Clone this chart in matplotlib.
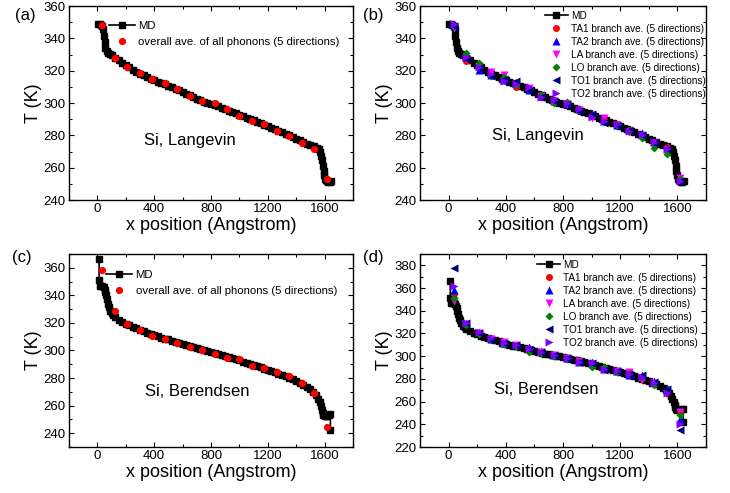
import numpy as np
import matplotlib
matplotlib.use("Agg")
import matplotlib.pyplot as plt
from matplotlib.ticker import MultipleLocator

plt.rcParams['font.family'] = ['Liberation Sans', 'DejaVu Sans']

# ---------------------------------------------------------------------
# MD temperature profiles
md_lang_x = [5, 15, 25, 35, 42, 47, 52, 57, 65, 75, 88, 100, 125, 150, 175, 200,
             225, 250, 275, 300, 325, 350, 375, 400, 425, 450, 475, 500, 525, 550,
             575, 600, 625, 650, 675, 700, 725, 750, 775, 800, 825, 850, 875, 900,
             925, 950, 975, 1000, 1025, 1050, 1075, 1100, 1125, 1150, 1175, 1200,
             1225, 1250, 1275, 1300, 1325, 1350, 1375, 1400, 1425, 1450, 1475, 1500,
             1525, 1545, 1560, 1570, 1578, 1584, 1589, 1593, 1597, 1601, 1608, 1616,
             1626, 1635, 1645]
md_lang_T = [349.0, 349.0, 348.3, 347.5, 345.5, 341.5, 337.5, 334.0, 332.0, 331.0,
             330.2, 329.4, 327.8, 326.3, 324.9, 323.5, 322.0, 320.6, 319.3, 318.2,
             317.2, 316.1, 315.0, 314.1, 313.3, 312.4, 311.6, 310.8, 309.9, 308.9,
             307.9, 306.8, 305.8, 304.8, 303.7, 302.7, 301.8, 300.9, 300.1, 299.4,
             298.7, 297.9, 297.1, 296.2, 295.3, 294.4, 293.6, 292.8, 291.9, 291.0,
             290.1, 289.2, 288.3, 287.5, 286.7, 285.8, 284.8, 283.8, 282.8, 281.8,
             280.9, 280.0, 279.0, 278.0, 276.9, 275.9, 274.9, 274.0, 273.2, 272.4,
             271.3, 269.8, 267.2, 264.5, 261.3, 258.0, 255.2, 253.3, 252.2, 251.6,
             251.4, 251.4, 251.5]

md_ber_x = [12, 12, 16, 25, 35, 45, 52, 57, 62, 67, 73, 80, 90, 100, 112, 125, 150,
            175, 200, 225, 250, 275, 300, 325, 350, 375, 400, 425, 450, 475, 500,
            525, 550, 575, 600, 625, 650, 675, 700, 725, 750, 775, 800, 825, 850,
            875, 900, 925, 950, 975, 1000, 1025, 1050, 1075, 1100, 1125, 1150, 1175,
            1200, 1225, 1250, 1275, 1300, 1325, 1350, 1375, 1400, 1425, 1450, 1475,
            1500, 1520, 1540, 1555, 1565, 1573, 1580, 1586, 1592, 1600, 1610, 1620,
            1630, 1640, 1641]
md_ber_T = [366.5, 351.3, 347.0, 346.8, 346.5, 345.8, 344.0, 342.5, 340.0, 337.0,
            334.0, 331.5, 328.8, 327.0, 325.5, 324.2, 322.2, 320.5, 319.3, 318.2,
            317.0, 316.0, 315.0, 314.0, 313.0, 312.0, 311.0, 310.2, 309.4, 308.7,
            308.0, 307.2, 306.3, 305.4, 304.6, 303.8, 303.0, 302.3, 301.6, 301.0,
            300.4, 299.8, 299.0, 298.3, 297.6, 296.9, 296.2, 295.4, 294.6, 293.7,
            292.8, 291.9, 291.0, 290.1, 289.3, 288.5, 287.7, 286.9, 286.0, 285.1,
            284.2, 283.3, 282.3, 281.2, 280.0, 279.0, 278.0, 276.7, 275.3, 273.8,
            272.0, 270.0, 267.8, 265.0, 262.5, 259.8, 257.0, 254.8, 253.4, 252.8,
            252.6, 252.8, 253.2, 253.6, 242.0]

# phonon averages
ph_x = [35, 123, 211, 298, 386, 474, 562, 649, 737, 825, 913, 1000, 1088, 1176,
        1264, 1351, 1439, 1527, 1615]

all_lang = [348.0, 328.0, 322.5, 318.4, 314.6, 312.2, 308.5, 304.3, 301.2, 300.0,
            296.3, 292.2, 289.1, 286.8, 282.9, 279.6, 275.5, 271.3, 252.8]
all_ber = [358.6, 328.4, 319.3, 314.7, 310.6, 308.0, 305.8, 302.9, 300.7, 297.6,
           294.7, 293.5, 288.9, 287.2, 284.3, 281.4, 276.4, 269.2, 244.8]

ta1_lang = [347.5, 326.2, 322.0, 318.0, 314.5, 310.1, 308.5, 304.0, 301.0, 300.0,
            295.7, 292.0, 289.5, 286.8, 283.0, 280.0, 275.5, 273.0, 252.5]
ta2_lang = [347.5, 328.7, 320.4, 317.5, 314.0, 312.5, 308.0, 304.5, 301.0, 299.5,
            296.5, 294.0, 289.0, 286.5, 283.5, 281.2, 276.0, 272.0, 253.0]
la_lang = [346.2, 327.5, 323.0, 319.4, 317.3, 311.5, 309.0, 304.5, 301.0, 299.5,
           295.7, 290.5, 290.5, 286.5, 282.0, 279.5, 275.0, 271.0, 253.8]
lo_lang = [347.5, 330.7, 324.5, 317.0, 315.9, 311.0, 308.5, 305.0, 299.8, 300.5,
           295.7, 292.5, 288.5, 286.5, 282.5, 278.6, 272.4, 268.2, 253.0]
to1_lang = [347.5, 327.0, 321.4, 317.0, 314.8, 313.6, 308.0, 304.0, 301.0, 299.5,
            295.0, 293.0, 287.4, 286.5, 283.0, 280.0, 275.5, 271.5, 251.5]
to2_lang = [348.9, 328.2, 322.5, 318.0, 313.6, 312.0, 309.7, 303.9, 301.9, 299.8,
            296.0, 291.5, 289.0, 286.8, 282.7, 280.2, 276.1, 271.3, 252.0]

ta1_ber = [354.7, 328.0, 320.0, 315.2, 312.0, 309.5, 306.5, 304.0, 301.0, 298.0,
           294.6, 292.5, 289.0, 287.0, 286.0, 281.0, 276.5, 269.0, 250.5]
ta2_ber = [358.5, 329.0, 321.0, 315.2, 311.5, 310.0, 308.4, 304.5, 301.0, 298.0,
           294.6, 295.1, 289.0, 286.9, 283.5, 283.0, 278.0, 271.6, 245.0]
la_ber = [348.2, 328.5, 320.0, 315.2, 312.8, 309.5, 305.5, 304.0, 301.0, 298.0,
          295.5, 293.0, 288.0, 286.9, 285.7, 278.9, 276.0, 268.0, 251.0]
lo_ber = [351.1, 327.6, 319.5, 314.0, 311.0, 309.0, 304.0, 303.0, 300.0, 298.0,
          294.6, 290.7, 290.7, 286.0, 284.0, 282.0, 274.5, 270.0, 248.0]
to1_ber = [377.6, 329.0, 320.5, 314.5, 312.0, 309.5, 306.0, 304.0, 301.0, 298.0,
           294.6, 294.0, 288.0, 286.9, 284.0, 283.4, 277.0, 271.0, 234.7]
to2_ber = [361.4, 329.6, 321.0, 315.8, 312.0, 309.9, 306.0, 304.0, 301.0, 298.1,
           295.0, 293.7, 288.7, 286.9, 284.5, 281.5, 276.0, 267.2, 240.6]

branch_names = ["TA1", "TA2", "LA", "LO", "TO1", "TO2"]
branch_colors = ["#FF0000", "#0000FF", "#FF00FF", "#008000", "#000080", "#8000FF"]
branch_markers = ["o", "^", "v", "D", "<", ">"]
branch_sizes = [5.0, 5.4, 5.4, 4.0, 5.4, 5.4]

#----------------------------------------------------------------------
fig = plt.figure(figsize=(7.3, 4.93), dpi=100)
ax_a = fig.add_axes([0.0945, 0.5943, 0.3891, 0.3935])
ax_b = fig.add_axes([0.5753, 0.5943, 0.3918, 0.3935])
ax_c = fig.add_axes([0.0945, 0.0933, 0.3891, 0.3915])
ax_d = fig.add_axes([0.5753, 0.0933, 0.3918, 0.3915])


def style(ax, ylim, text, tx, ty):
    ax.set_xlim(-200, 1800)
    ax.set_ylim(*ylim)
    ax.xaxis.set_major_locator(MultipleLocator(400))
    ax.xaxis.set_minor_locator(MultipleLocator(200))
    ax.yaxis.set_major_locator(MultipleLocator(20))
    ax.yaxis.set_minor_locator(MultipleLocator(10))
    ax.tick_params(which='both', direction='in', top=True, right=True,
                   labelsize=9.5, width=0.8, pad=2.5)
    ax.tick_params(which='major', length=3.5)
    ax.tick_params(which='minor', length=2)
    for s in ax.spines.values():
        s.set_linewidth(1.0)
    ax.set_xlabel('x position (Angstrom)', fontsize=13, labelpad=1)
    ax.set_ylabel('T (K)', fontsize=13, labelpad=1)
    ax.text(tx, ty, text, transform=ax.transAxes, fontsize=12, ha='center', va='center')


def md(ax, x, T):
    ax.plot(x, T, '-s', color='black', lw=1.2, ms=4.6, label='MD', zorder=2)


# (a)
md(ax_a, md_lang_x, md_lang_T)
ax_a.plot(ph_x, all_lang, 'o', color='#FF0000', ms=5.2, mec='none',
          label='overall ave. of all phonons (5 directions)', zorder=3)
style(ax_a, (240, 360), 'Si, Langevin', 0.426, 0.309)
ax_a.legend(loc='upper left', bbox_to_anchor=(0.14, 0.924), frameon=False, fontsize=8.2,
            handlelength=2.3, handletextpad=0.3, borderpad=0, borderaxespad=0,
            labelspacing=0.55)

# (c)
md(ax_c, md_ber_x, md_ber_T)
ax_c.plot(ph_x, all_ber, 'o', color='#FF0000', ms=5.2, mec='none',
          label='overall ave. of all phonons (5 directions)', zorder=3)
style(ax_c, (230, 370), 'Si, Berendsen', 0.45, 0.287)
ax_c.legend(loc='upper left', bbox_to_anchor=(0.13, 0.919), frameon=False, fontsize=8.2,
            handlelength=2.3, handletextpad=0.3, borderpad=0, borderaxespad=0,
            labelspacing=0.55)

# (b) and (d)
for ax, data, ylim, text, tx, ty, anchor in [
        (ax_b, [ta1_lang, ta2_lang, la_lang, lo_lang, to1_lang, to2_lang],
         (240, 360), 'Si, Langevin', 0.413, 0.335, (0.437, 0.975)),
        (ax_d, [ta1_ber, ta2_ber, la_ber, lo_ber, to1_ber, to2_ber],
         (220, 390), 'Si, Berendsen', 0.443, 0.30, (0.41, 0.97))]:
    md(ax, md_lang_x if ax is ax_b else md_ber_x, md_lang_T if ax is ax_b else md_ber_T)
    for i in range(len(branch_names)):
        ax.plot(ph_x, data[i], branch_markers[i], color=branch_colors[i],
                ms=branch_sizes[i], mec='none', zorder=3,
                label=branch_names[i] + ' branch ave. (5 directions)')
    style(ax, ylim, text, tx, ty)
    ax.legend(loc='upper left', bbox_to_anchor=anchor, frameon=False, fontsize=7.2,
              handlelength=2.3, handletextpad=0.3, borderpad=0, borderaxespad=0,
              labelspacing=0.3)

fig.text(0.020, 0.968, '(a)', fontsize=12, ha='left', va='center')
fig.text(0.497, 0.968, '(b)', fontsize=12, ha='left', va='center')
fig.text(0.016, 0.478, '(c)', fontsize=12, ha='left', va='center')
fig.text(0.497, 0.478, '(d)', fontsize=12, ha='left', va='center')

fig.savefig('out.png', dpi=100)
